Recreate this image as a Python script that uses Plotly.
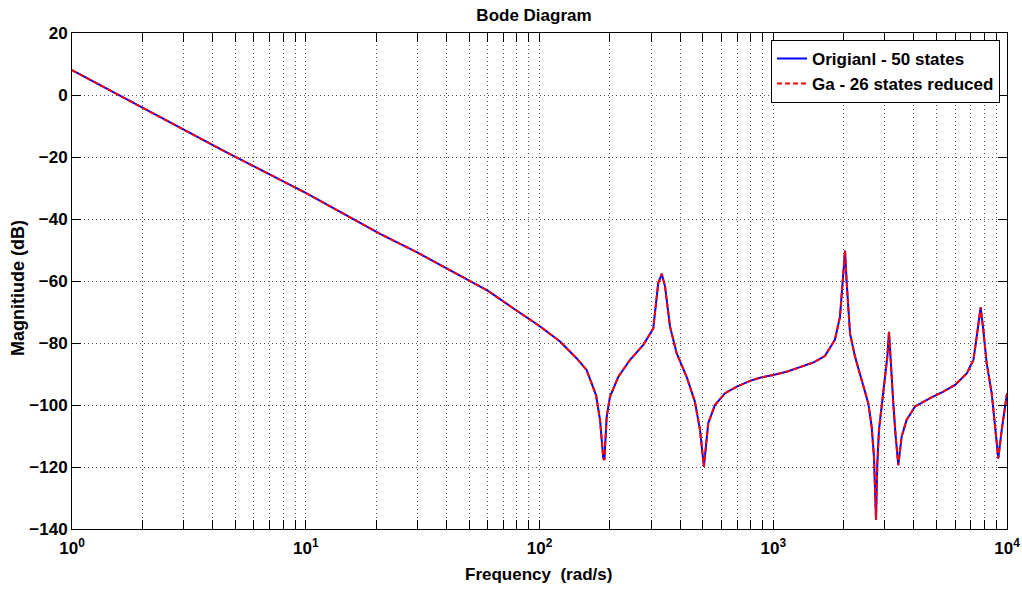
import plotly.graph_objects as go

# Frequency (rad/s) and magnitude (dB)
freq = [1, 2, 4.5, 10, 20.8, 30, 49.4, 60, 80, 100, 122.4, 144, 159, 174.5, 181.5,
        187.5, 189.5, 193.8, 200.3, 217.4, 243.6, 278, 306.7, 322, 333.5, 344.5,
        361.7, 386, 426, 462, 486, 505, 527, 563, 622, 698, 796, 878, 1000, 1150,
        1301, 1483, 1663, 1835, 1930, 1994, 2028, 2062, 2130, 2238, 2389, 2551, 2636,
        2697, 2752, 2788, 2833, 2909, 3006, 3076, 3127, 3178, 3263, 3340, 3428, 3542,
        3721, 4039, 4686, 5343, 5998, 6727, 7182, 7418, 7714, 7918, 8184, 8600, 8883,
        9180, 9490, 9796, 10000]
mag_original = [8.0, -4.0, -18.2, -31.6, -44.8, -50.8, -59.8, -63.1, -69.6, -74.5,
                 -79.5, -84.9, -88.7, -96.8, -104.8, -117.2, -117.7, -103.8, -97.3,
                 -90.9, -85.5, -80.6, -75.3, -60.7, -57.7, -61.8, -74.7, -83.3, -90.9,
                 -98.9, -108, -119.9, -105.9, -100, -96.2, -94.1, -92.2, -91.2, -90.3,
                 -89.2, -87.8, -86.3, -84.2, -79, -71.5, -58.6, -50.2, -60.7, -76.9,
                 -84.4, -91.9, -99.5, -107, -116.7, -137.1, -118.8, -108.1, -100.5,
                 -91.9, -84.4, -76.4, -86.5, -99.5, -110.2, -119.4, -110.2, -104.8,
                 -100.5, -97.8, -95.7, -93.5, -89.8, -85.5, -78, -68.5, -75.8, -86.5,
                 -96.2, -105.9, -117.2, -108.1, -100.5, -96.2]
mag_reduced = list(mag_original)

x_tickvals = [1, 10, 100, 1000, 10000]
x_ticktext = ["10<sup>0</sup>", "10<sup>1</sup>", "10<sup>2</sup>", "10<sup>3</sup>", "10<sup>4</sup>"]
x_minor = [m * d for d in [1, 10, 100, 1000] for m in range(2, 10)]
y_tickvals = [-140, -120, -100, -80, -60, -40, -20, 0, 20]

FONT = "Liberation Sans, Arial, sans-serif"
GRID = "#555555"
DOTS = "1px,3px"

fig = go.Figure()
fig.add_trace(go.Scatter(x=freq, y=mag_original, mode="lines",
                         name="Origianl - 50 states",
                         line=dict(color="#0000ff", width=2)))
fig.add_trace(go.Scatter(x=freq, y=mag_reduced, mode="lines",
                         name="Ga - 26 states reduced",
                         line=dict(color="#ff0000", width=2, dash="5px,3px")))

fig.update_layout(
    width=1022, height=589,
    margin=dict(l=72, r=15, t=33, b=60, autoexpand=False),
    paper_bgcolor="white", plot_bgcolor="white",
    font=dict(family=FONT, size=17, color="black"),
    title=dict(text="<b>Bode Diagram</b>", x=0.5225, xanchor="center",
               y=0.9745, yanchor="middle", font=dict(size=17, family=FONT)),
    showlegend=True,
    legend=dict(x=0.9925, xanchor="right", y=0.986, yanchor="top",
                bgcolor="white", bordercolor="black", borderwidth=1,
                font=dict(size=17, family=FONT, weight="bold"),
                tracegroupgap=0, itemwidth=30),
    annotations=[
        dict(text="<b>Frequency  (rad/s)</b>", xref="paper", yref="paper",
             x=0.4984, y=-0.0927, xanchor="center", yanchor="middle",
             showarrow=False, font=dict(size=17, family=FONT)),
        dict(text="<b>Magnitiude (dB)</b>", xref="paper", yref="paper",
             x=-0.0578, y=0.486, xanchor="center", yanchor="middle", textangle=-90,
             showarrow=False, font=dict(size=18, family=FONT)),
    ],
)

fig.update_xaxes(
    type="log", range=[0, 4], automargin=False,
    tickvals=x_tickvals, ticktext=x_ticktext,
    tickfont=dict(size=17, family=FONT, weight="bold"),
    ticks="inside", ticklen=9, tickcolor="black", ticklabelstandoff=4,
    showline=True, linecolor="black", linewidth=1, mirror="ticks",
    showgrid=True, gridcolor=GRID, griddash=DOTS, gridwidth=1,
    zeroline=False,
    minor=dict(tickvals=x_minor, ticks="inside", ticklen=9, tickcolor="black",
               showgrid=True, gridcolor=GRID, griddash=DOTS, gridwidth=1),
)
fig.update_yaxes(
    range=[-140, 20], tickvals=y_tickvals, automargin=False,
    tickfont=dict(size=17, family=FONT, weight="bold"),
    ticks="inside", ticklen=9, tickcolor="black",
    showline=True, linecolor="black", linewidth=1, mirror="ticks",
    showgrid=True, gridcolor=GRID, griddash=DOTS, gridwidth=1,
    zeroline=False,
)

fig.write_html("out.html")
